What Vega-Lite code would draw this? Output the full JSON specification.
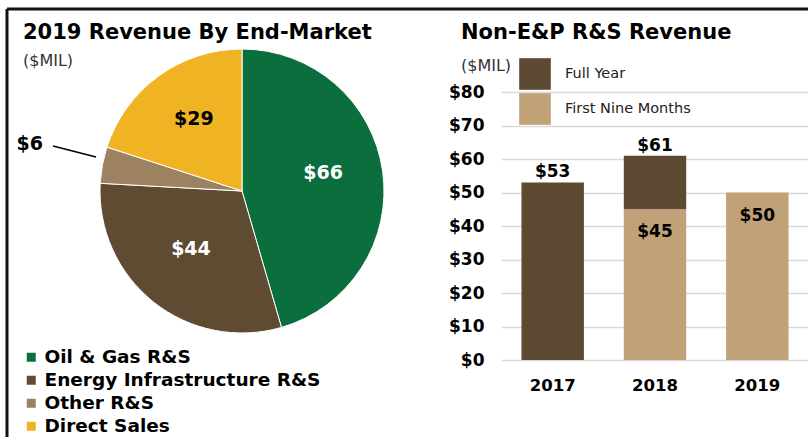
{
  "$schema": "https://vega.github.io/schema/vega-lite/v6.json",
  "padding": {"left": 5, "top": 0, "right": 0, "bottom": 0},
  "background": "white",
  "bounds": "flush",
  "spacing": 117,
  "config": {
    "font": "DejaVu Sans",
    "view": {"stroke": null},
    "title": {"fontSize": 21, "fontWeight": "bold", "color": "#000", "subtitleFontSize": 16, "subtitleColor": "#333", "subtitlePadding": 9, "anchor": "start", "frame": "group"}
  },
  "resolve": {"scale": {"color": "independent", "x": "independent", "y": "independent"}, "legend": {"color": "independent"}},
  "hconcat": [
    {
      "width": 284,
      "height": 284,
      "title": {"text": "2019 Revenue By End-Market", "subtitle": "($MIL)", "dx": -77, "dy": 49, "offset": -20, "subtitlePadding": 10},
      "layer": [
        {
          "data": {"values": [
            {"category": "Oil & Gas R&S", "value": 66},
            {"category": "Energy Infrastructure R&S", "value": 44},
            {"category": "Other R&S", "value": 6},
            {"category": "Direct Sales", "value": 29}
          ]},
          "transform": [{"window": [{"op": "row_number", "as": "rank"}]}],
          "encoding": {
            "theta": {"field": "value", "type": "quantitative", "stack": true},
            "order": {"field": "rank", "type": "quantitative"}
          },
          "layer": [
            {
              "mark": {"type": "arc", "stroke": "white", "strokeWidth": 1},
              "encoding": {
                "color": {
                  "field": "category", "type": "nominal",
                  "scale": {"domain": ["Oil & Gas R&S", "Energy Infrastructure R&S", "Other R&S", "Direct Sales"], "range": ["#0b6e3d", "#5f4b32", "#9c8260", "#f0b323"]},
                  "legend": {"orient": "none", "legendX": -78, "legendY": 299, "title": null, "symbolType": "square", "symbolSize": 81, "symbolStrokeWidth": 0, "labelFontSize": 18.5, "labelFontWeight": "bold", "labelColor": "#000", "labelOffset": 4, "rowPadding": 4, "labelLimit": 400}
                }
              }
            },
            {
              "mark": {"type": "text", "radius": 82, "dy": -6, "fontSize": 19, "fontWeight": "bold"},
              "encoding": {
                "detail": {"field": "category"},
                "text": {"condition": {"test": "datum.value >= 10", "field": "value", "type": "quantitative", "format": "$.0f"}, "value": ""},
                "color": {"condition": {"test": "datum.value > 40", "value": "white"}, "value": "black"}
              }
            },
            {
              "mark": {"type": "text", "radius": 216, "dy": -7, "fontSize": 19, "fontWeight": "bold", "color": "black"},
              "encoding": {
                "detail": {"field": "category"},
                "text": {"condition": {"test": "datum.value < 10", "field": "value", "type": "quantitative", "format": "$.0f"}, "value": ""}
              }
            }
          ]
        },
        {
          "data": {"values": [{}]},
          "mark": {"type": "rule", "color": "black", "strokeWidth": 1.5},
          "encoding": {
            "x": {"datum": -1.331, "type": "quantitative", "scale": {"domain": [-1, 1]}, "axis": null},
            "y": {"datum": 0.317, "type": "quantitative", "scale": {"domain": [-1, 1]}, "axis": null},
            "x2": {"datum": -1.028},
            "y2": {"datum": 0.239}
          }
        },
        {
          "data": {"values": [{}]},
          "mark": {"type": "rule", "color": "#111", "strokeWidth": 3},
          "encoding": {
            "x": {"datum": -1.655, "type": "quantitative"},
            "x2": {"datum": 3.993},
            "y": {"datum": 1.282, "type": "quantitative"}
          }
        },
        {
          "data": {"values": [{}]},
          "mark": {"type": "rule", "color": "#111", "strokeWidth": 3},
          "encoding": {
            "x": {"datum": -1.655, "type": "quantitative"},
            "y": {"datum": 1.282, "type": "quantitative"},
            "y2": {"datum": -1.732}
          }
        }
      ]
    },
    {
      "width": 308,
      "height": 311,
      "title": {"text": "Non-E&P R&S Revenue", "subtitle": "($MIL)", "dx": -40, "dy": 1, "offset": -24, "subtitlePadding": 15},
      "data": {"values": [
        {"year": "2017", "segment": "Full Year", "value": 53},
        {"year": "2018", "segment": "First Nine Months", "value": 45},
        {"year": "2018", "segment": "Full Year", "value": 16},
        {"year": "2019", "segment": "First Nine Months", "value": 50}
      ]},
      "encoding": {
        "x": {
          "field": "year", "type": "nominal", "title": null,
          "scale": {"paddingInner": 0.39, "paddingOuter": 0.2},
          "axis": {"labelAngle": 0, "labelFontSize": 16.5, "labelFontWeight": "bold", "labelColor": "#000", "ticks": false, "domain": false, "labelPadding": 17, "grid": false}
        }
      },
      "layer": [
        {
          "mark": {"type": "bar"},
          "encoding": {
            "y": {
              "field": "value", "type": "quantitative", "stack": "zero", "title": null,
              "scale": {"domain": [0, 92.84], "nice": false},
              "axis": {"values": [0, 10, 20, 30, 40, 50, 60, 70, 80], "format": "$.0f", "labelOverlap": false, "labelFontSize": 17, "labelFontWeight": "bold", "labelColor": "#000", "grid": true, "gridColor": "#d9d9d9", "gridWidth": 1.5, "domain": false, "ticks": false, "labelPadding": 17}
            },
            "color": {
              "field": "segment", "type": "nominal",
              "scale": {"domain": ["Full Year", "First Nine Months"], "range": ["#5c4a32", "#c1a178"]},
              "legend": {"orient": "none", "legendX": 18, "legendY": 9, "title": null, "symbolType": "square", "symbolSize": 1000, "symbolStrokeWidth": 0, "labelFontSize": 14.5, "labelColor": "#222", "labelOffset": 14, "rowPadding": 3, "direction": "vertical"}
            },
            "order": {"field": "segment", "sort": "ascending"}
          }
        },
        {
          "transform": [{"filter": "datum.segment === 'First Nine Months'"}],
          "mark": {"type": "text", "baseline": "alphabetic", "dy": 28, "fontSize": 17, "fontWeight": "bold", "color": "#000"},
          "encoding": {
            "y": {"field": "value", "type": "quantitative", "title": null,
              "axis": {"values": [0, 10, 20, 30, 40, 50, 60, 70, 80], "format": "$.0f", "labelOverlap": false, "labelFontSize": 17, "labelFontWeight": "bold", "labelColor": "#000", "grid": true, "gridColor": "#d9d9d9", "gridWidth": 1.5, "domain": false, "ticks": false, "labelPadding": 17}},
            "text": {"field": "value", "type": "quantitative", "format": "$.0f"}
          }
        },
        {
          "transform": [
            {"joinaggregate": [{"op": "sum", "field": "value", "as": "total"}], "groupby": ["year"]},
            {"filter": "datum.segment === 'Full Year'"}
          ],
          "mark": {"type": "text", "baseline": "alphabetic", "dy": -5, "fontSize": 17, "fontWeight": "bold", "color": "#000"},
          "encoding": {
            "y": {"field": "total", "type": "quantitative", "title": null,
              "axis": {"values": [0, 10, 20, 30, 40, 50, 60, 70, 80], "format": "$.0f", "labelOverlap": false, "labelFontSize": 17, "labelFontWeight": "bold", "labelColor": "#000", "grid": true, "gridColor": "#d9d9d9", "gridWidth": 1.5, "domain": false, "ticks": false, "labelPadding": 17}},
            "text": {"field": "total", "type": "quantitative", "format": "$.0f"}
          }
        }
      ]
    }
  ]
}
